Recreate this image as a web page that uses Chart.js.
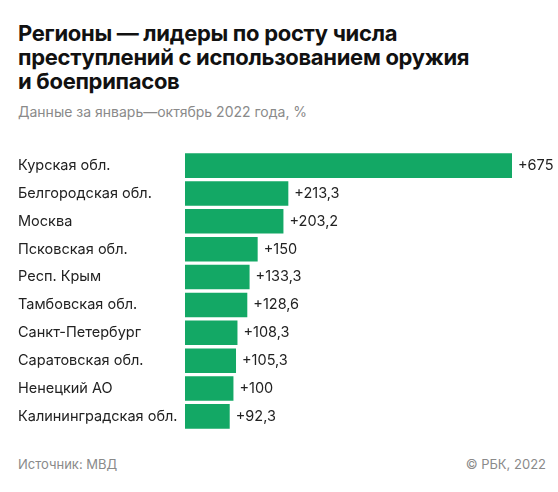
<!DOCTYPE html><html><head><meta charset="utf-8">
<script src="https://cdn.jsdelivr.net/npm/chart.js@4"></script>
<style>
body{margin:0;width:558px;height:492px;background:#fff;font-family:Inter,"Noto Sans",sans-serif;position:relative;overflow:hidden}
#t{position:absolute;left:18px;top:21px;width:530px;font-size:22px;font-weight:700;line-height:24px;color:#111;letter-spacing:-0.3px}
#s{position:absolute;left:18px;top:103px;font-size:14px;color:#8a8a8a}
#f1{position:absolute;left:18px;top:456px;font-size:13px;color:#8a8a8a}
#f2{position:absolute;right:12px;top:456px;font-size:13px;color:#8a8a8a}
#c{position:absolute;left:18px;top:143px;width:540px;height:296px}
</style></head><body>
<div id="t">Регионы — лидеры по росту числа<br>преступлений с использованием оружия<br>и боеприпасов</div>
<div id="s">Данные за январь—октябрь 2022 года, %</div>
<div id="c"><canvas id="cv"></canvas></div>
<div id="f1">Источник: МВД</div><div id="f2">© РБК, 2022</div>
<script>
const categories=["Курская обл.","Белгородская обл.","Москва","Псковская обл.","Респ. Крым","Тамбовская обл.","Санкт-Петербург","Саратовская обл.","Ненецкий АО","Калининградская обл."];
const values=[675,213.3,203.2,150,133.3,128.6,108.3,105.3,100,92.3];
const valueLabels=["+675","+213,3","+203,2","+150","+133,3","+128,6","+108,3","+105,3","+100","+92,3"];
const lbl={id:'lbl',afterDatasetsDraw(ch){const c=ch.ctx;c.save();c.font='14.5px Inter, "Noto Sans", sans-serif';c.fillStyle='#222';c.textBaseline='middle';
ch.getDatasetMeta(0).data.forEach((b,i)=>{c.fillText(valueLabels[i],b.x+6,b.y);});c.restore();}};
new Chart(document.getElementById('cv'),{type:'bar',data:{labels:categories,datasets:[{data:values,backgroundColor:'#13a865',barPercentage:0.88,categoryPercentage:1}]},
options:{indexAxis:'y',responsive:true,maintainAspectRatio:false,animation:false,layout:{padding:{right:46,top:0,bottom:0}},
plugins:{legend:{display:false},tooltip:{enabled:false}},
scales:{x:{min:0,max:675,display:false},y:{grid:{display:false},border:{display:false},afterFit(a){a.width=167},
ticks:{crossAlign:'far',padding:0,color:'#222',font:{size:14.5,family:'Inter, "Noto Sans", sans-serif'}}}}},plugins:[lbl]});
</script></body></html>
